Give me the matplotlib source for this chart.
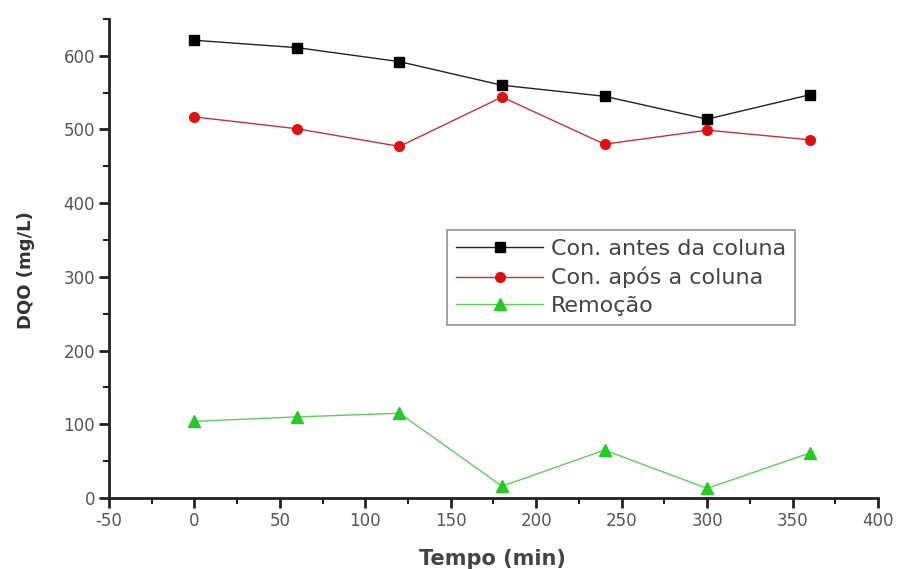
import matplotlib
matplotlib.use("Agg")
import matplotlib.pyplot as plt
from matplotlib.ticker import MultipleLocator

plt.rcParams['font.family'] = ['DejaVu Sans']
plt.rcParams['axes.unicode_minus'] = False

tempo = [0, 60, 120, 180, 240, 300, 360]
antes = [621, 611, 592, 560, 545, 514, 547]
apos = [517, 501, 477, 544, 480, 499, 486]
remocao = [104, 110, 115, 16, 65, 13, 61]

fig = plt.figure(figsize=(9, 5.69), dpi=100)
ax = fig.add_axes([0.121, 0.1248, 0.8546, 0.842])

ax.plot(tempo, antes, color='#222222', lw=1.0, marker='s', ms=7,
        mfc='black', mec='black', label='Con. antes da coluna')
ax.plot(tempo, apos, color='#c03535', lw=1.0, marker='o', ms=7,
        mfc='#e01010', mec='#e01010', label='Con. após a coluna')
ax.plot(tempo, remocao, color='#60cc60', lw=1.0, marker='^', ms=9,
        mfc='#22cc22', mec='#22cc22', label='Remoção')

ax.set_xlim(-50, 400)
ax.set_ylim(0, 650)
ax.xaxis.set_major_locator(MultipleLocator(50))
ax.xaxis.set_minor_locator(MultipleLocator(25))
ax.yaxis.set_major_locator(MultipleLocator(100))
ax.yaxis.set_minor_locator(MultipleLocator(50))

for s in ['top', 'right']:
    ax.spines[s].set_visible(False)
for s in ['left', 'bottom']:
    ax.spines[s].set_linewidth(2)
    ax.spines[s].set_color('#222222')

ax.tick_params(which='major', direction='out', length=7, width=2,
               colors='#222222', labelcolor='#555555', labelsize=12, pad=3)
ax.tick_params(which='minor', direction='out', length=4, width=1.5,
               colors='#222222')

ax.set_xlabel('Tempo (min)', fontsize=15, color='#444444', fontweight='bold',
              va='top')
ax.xaxis.set_label_coords(0.499, -0.106)
ax.set_ylabel('DQO (mg/L)', fontsize=13, color='#333333', fontweight='bold')
ax.yaxis.set_label_coords(-0.096, 0.476)

leg = ax.legend(loc='center', bbox_to_anchor=(0.666, 0.460), fontsize=16,
                frameon=True, fancybox=False, edgecolor='#777777',
                handlelength=3.9, borderpad=0.4, labelspacing=0.35,
                handletextpad=0.35, borderaxespad=0)
leg.get_frame().set_linewidth(1.2)
for t in leg.get_texts():
    t.set_color('#444444')

fig.savefig('out.png', dpi=100)
